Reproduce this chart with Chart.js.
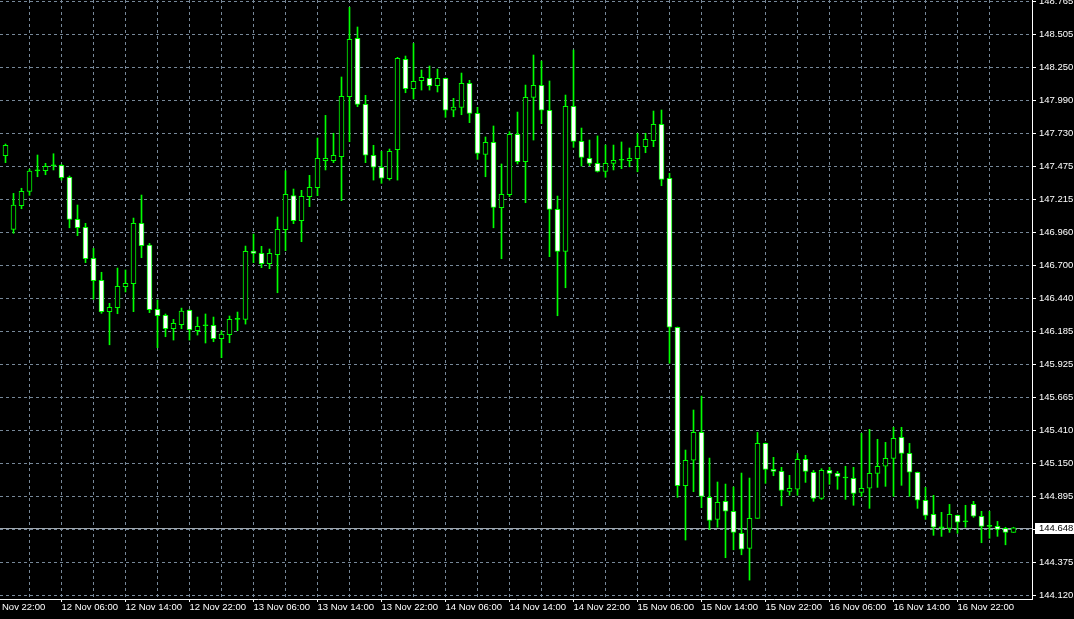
<!DOCTYPE html>
<html>
<head>
<meta charset="utf-8">
<title>H1 chart</title>
<script src="https://cdn.jsdelivr.net/npm/chart.js@4.4.1/dist/chart.umd.min.js"></script>
<style>
  html, body { margin: 0; padding: 0; background: #000; overflow: hidden; }
  canvas { display: block; background: #000; }
</style>
</head>
<body>
<canvas id="chart" width="1074" height="619"></canvas>
<script>
// OHLC, one bar per hour, first bar = 11 Nov 23:00
const opens = [
  147.557, 146.982, 147.166, 147.278, 147.439, 147.440, 147.479, 147.482, 147.389, 147.060,
  146.998, 146.755, 146.583, 146.338, 146.369, 146.533, 146.557, 147.029, 146.859, 146.356,
  146.309, 146.205, 146.236, 146.349, 146.189, 146.228, 146.231, 146.126, 146.158, 146.278,
  146.278, 146.812, 146.794, 146.713, 146.783, 146.979, 147.246, 147.049, 147.238, 147.307,
  147.518, 147.518, 147.550, 148.019, 148.476, 147.959, 147.561, 147.467, 147.378, 147.604,
  148.311, 148.081, 148.144, 148.163, 148.105, 148.163, 147.913, 147.936, 148.124, 147.889,
  147.568, 147.662, 147.151, 147.252, 147.725, 147.511, 148.014, 148.108, 147.913, 147.138,
  146.810, 147.944, 147.670, 147.537, 147.498, 147.435, 147.498, 147.522, 147.518, 147.534,
  147.628, 147.675, 147.803, 147.381, 146.216, 144.977, 145.176, 145.394, 144.886, 144.714,
  144.855, 144.777, 144.605, 144.487, 144.722, 145.308, 145.105, 145.089, 144.933, 144.949,
  145.183, 145.082, 144.878, 145.097, 145.074, 145.037, 145.035, 144.925, 144.957, 145.074,
  145.129, 145.191, 145.355, 145.230, 145.082, 144.863, 144.753, 144.648, 144.644, 144.745,
  144.695, 144.831, 144.738, 144.659, 144.659, 144.644, 144.612
];
const highs = [
  147.649, 147.263, 147.303, 147.453, 147.563, 147.498, 147.573, 147.489, 147.399, 147.172,
  147.029, 146.833, 146.646, 146.403, 146.679, 146.664, 147.070, 147.250, 146.872, 146.429,
  146.320, 146.278, 146.366, 146.353, 146.296, 146.320, 146.296, 146.187, 146.304, 146.335,
  146.851, 146.945, 146.849, 146.828, 147.078, 147.440, 147.297, 147.287, 147.404, 147.696,
  147.873, 147.733, 148.173, 148.718, 148.564, 148.030, 147.639, 147.592, 147.610, 148.327,
  148.337, 148.436, 148.228, 148.259, 148.235, 148.165, 148.006, 148.204, 148.147, 147.936,
  147.704, 147.790, 147.493, 147.745, 147.899, 148.110, 148.345, 148.298, 148.142, 147.242,
  148.032, 148.384, 147.774, 147.680, 147.712, 147.641, 147.641, 147.665, 147.618, 147.733,
  147.733, 147.907, 147.915, 147.420, 146.218, 145.256, 145.569, 145.678, 145.193, 145.006,
  144.990, 144.967, 145.076, 145.037, 145.394, 145.311, 145.199, 145.121, 145.058, 145.230,
  145.215, 145.097, 145.110, 145.121, 145.089, 145.129, 145.121, 145.387, 145.418, 145.340,
  145.316, 145.434, 145.434, 145.308, 145.084, 144.964, 144.902, 144.769, 144.831, 144.748,
  144.824, 144.855, 144.777, 144.777, 144.698, 144.652, 144.652
];
const lows = [
  147.503, 146.951, 147.143, 147.248, 147.393, 147.409, 147.446, 147.367, 146.994, 146.932,
  146.721, 146.435, 146.325, 146.079, 146.322, 146.492, 146.338, 146.760, 146.330, 146.056,
  146.142, 146.116, 146.205, 146.116, 146.155, 146.093, 146.103, 145.978, 146.095, 146.189,
  146.241, 146.721, 146.682, 146.674, 146.486, 146.815, 147.026, 146.885, 147.159, 147.245,
  147.446, 147.503, 147.206, 147.667, 147.941, 147.503, 147.367, 147.342, 147.367, 147.367,
  148.050, 148.001, 148.071, 148.071, 148.056, 147.858, 147.862, 147.878, 147.816, 147.529,
  147.393, 146.994, 146.752, 147.237, 147.493, 147.190, 147.680, 147.808, 146.768, 146.306,
  146.525, 147.623, 147.477, 147.479, 147.430, 147.389, 147.446, 147.456, 147.471, 147.432,
  147.581, 147.628, 147.323, 145.934, 144.886, 144.552, 144.930, 144.805, 144.636, 144.652,
  144.414, 144.476, 144.437, 144.239, 144.722, 144.996, 145.055, 144.820, 144.902, 144.902,
  145.003, 144.855, 144.870, 144.988, 144.949, 144.870, 144.824, 144.894, 144.800, 144.964,
  144.972, 144.894, 144.980, 144.894, 144.800, 144.714, 144.589, 144.581, 144.612, 144.605,
  144.652, 144.730, 144.531, 144.566, 144.581, 144.515, 144.612
];
const closes = [
  147.639, 147.172, 147.279, 147.438, 147.439, 147.475, 147.479, 147.385, 147.060, 146.994,
  146.752, 146.580, 146.338, 146.372, 146.536, 146.560, 147.029, 146.854, 146.353, 146.306,
  146.205, 146.247, 146.343, 146.197, 146.223, 146.228, 146.126, 146.163, 146.278, 146.278,
  146.810, 146.794, 146.713, 146.794, 146.982, 147.256, 147.049, 147.240, 147.310, 147.537,
  147.537, 147.561, 148.022, 148.468, 147.959, 147.561, 147.467, 147.381, 147.592, 148.319,
  148.081, 148.139, 148.171, 148.105, 148.163, 147.913, 147.938, 148.124, 147.889, 147.576,
  147.662, 147.154, 147.256, 147.725, 147.511, 148.014, 148.108, 147.913, 147.138, 146.810,
  147.944, 147.670, 147.545, 147.498, 147.435, 147.498, 147.522, 147.522, 147.537, 147.631,
  147.686, 147.803, 147.373, 146.216, 144.977, 145.176, 145.394, 144.894, 144.706, 144.847,
  144.777, 144.612, 144.480, 144.722, 145.308, 145.105, 145.089, 144.941, 144.957, 145.183,
  145.089, 144.878, 145.097, 145.074, 145.050, 145.037, 144.917, 144.957, 145.074, 145.129,
  145.191, 145.348, 145.230, 145.082, 144.863, 144.745, 144.652, 144.648, 144.753, 144.691,
  144.695, 144.738, 144.659, 144.659, 144.636, 144.612, 144.648
];

// time axis labels, every 8 bars (first one sits at bar -1)
const timeLabels = [
  '11 Nov 22:00', '12 Nov 06:00', '12 Nov 14:00', '12 Nov 22:00',
  '13 Nov 06:00', '13 Nov 14:00', '13 Nov 22:00', '14 Nov 06:00',
  '14 Nov 14:00', '14 Nov 22:00', '15 Nov 06:00', '15 Nov 14:00',
  '15 Nov 22:00', '16 Nov 06:00', '16 Nov 14:00', '16 Nov 22:00'
];
// price axis labels
const priceTicks = [
  '148.765', '148.505', '148.250', '147.990', '147.730', '147.475', '147.215',
  '146.960', '146.700', '146.440', '146.185', '145.925', '145.665', '145.410',
  '145.150', '144.895', '144.635', '144.375', '144.120'
];

const lastPrice = closes[closes.length - 1];
const LIME = '#00ff00';
const GRID = '#778899';

const wickData = lows.map((l, i) => ({ x: i, y: [l, highs[i]] }));
const bodyData = opens.map((o, i) => ({ x: i, y: [o, closes[i]] }));
const bodyColors = opens.map((o, i) => closes[i] < o ? '#ffffff' : (closes[i] > o ? '#000000' : LIME));

Chart.defaults.font.family = "'Liberation Sans', Arial, sans-serif";
Chart.defaults.font.size = 9.5;
Chart.defaults.color = '#ffffff';

// no extra room for labels hanging over the edges
function noPad(s) {
  s.paddingLeft = 0;
  s.paddingRight = 0;
  s.paddingTop = 0;
  s.paddingBottom = 0;
}

// bid line + price box
const bidLine = {
  id: 'bidLine',
  beforeDatasetsDraw(chart) {
    const { ctx, chartArea, scales } = chart;
    const y = Math.round(scales.y.getPixelForValue(lastPrice)) + 0.5;
    ctx.save();
    ctx.strokeStyle = '#a0a8b0';
    ctx.lineWidth = 1;
    ctx.beginPath();
    ctx.moveTo(chartArea.left, y);
    ctx.lineTo(chartArea.right, y);
    ctx.stroke();
    ctx.restore();
  },
  afterDraw(chart) {
    const { ctx, chartArea, scales } = chart;
    const y = Math.round(scales.y.getPixelForValue(lastPrice));
    ctx.save();
    ctx.fillStyle = '#ffffff';
    ctx.fillRect(chartArea.right + 3, y - 5, chart.width - chartArea.right - 3, 11);
    ctx.fillStyle = '#000000';
    ctx.font = Chart.defaults.font.size + "px 'Liberation Sans', Arial, sans-serif";
    ctx.textBaseline = 'middle';
    ctx.textAlign = 'left';
    ctx.fillText(lastPrice.toFixed(3), chartArea.right + 7, y + 0.5);
    ctx.restore();
  }
};

new Chart(document.getElementById('chart'), {
  type: 'bar',
  data: {
    datasets: [
      {
        label: 'body',
        data: bodyData,
        backgroundColor: bodyColors,
        borderColor: LIME,
        borderWidth: 1,
        borderSkipped: false,
        barThickness: 5,
        minBarLength: 1,
        grouped: false,
        order: 0
      },
      {
        label: 'wick',
        data: wickData,
        backgroundColor: LIME,
        borderWidth: 0,
        barThickness: 1,
        grouped: false,
        order: 1
      }
    ]
  },
  options: {
    responsive: false,
    animation: false,
    layout: { padding: 0 },
    plugins: {
      legend: { display: false },
      tooltip: { enabled: false }
    },
    scales: {
      x: {
        type: 'linear',
        offset: false,
        min: -0.6875,
        max: 128.3125,
        afterFit: s => { s.height = 20; noPad(s); },
        afterBuildTicks: s => {
          const t = [];
          timeLabels.forEach((name, i) => {
            const v = -1 + 8 * i;
            t.push({ value: i === 0 ? -2 : v, major: true, name: name });
            t.push({ value: v + 4, major: false, name: '' });
          });
          s.ticks = t;
        },
        ticks: {
          autoSkip: false,
          maxRotation: 0,
          align: 'start',
          padding: 0,
          color: '#ffffff',
          callback: (v, i, ticks) => ticks[i].name
        },
        grid: {
          offset: false,
          color: GRID,
          tickLength: 3,
          tickColor: c => (c.tick && c.tick.major) ? '#ffffff' : 'rgba(0,0,0,0)'
        },
        border: { display: true, color: '#ffffff', width: 1, dash: [3, 3] }
      },
      y: {
        position: 'right',
        beginAtZero: false,
        min: 144.0911,
        max: 148.7752,
        afterFit: s => { s.width = 42; noPad(s); },
        afterBuildTicks: s => {
          s.ticks = priceTicks.map(p => ({ value: Number(p) }));
        },
        ticks: {
          autoSkip: false,
          padding: 3,
          color: '#ffffff',
          callback: (v, i) => Math.abs(v - lastPrice) < 0.05 ? '' : priceTicks[i]
        },
        grid: {
          color: GRID,
          tickLength: 4,
          tickColor: '#ffffff'
        },
        border: { display: true, color: '#ffffff', width: 1, dash: [3, 3] }
      }
    }
  },
  plugins: [bidLine]
});
</script>
</body>
</html>
